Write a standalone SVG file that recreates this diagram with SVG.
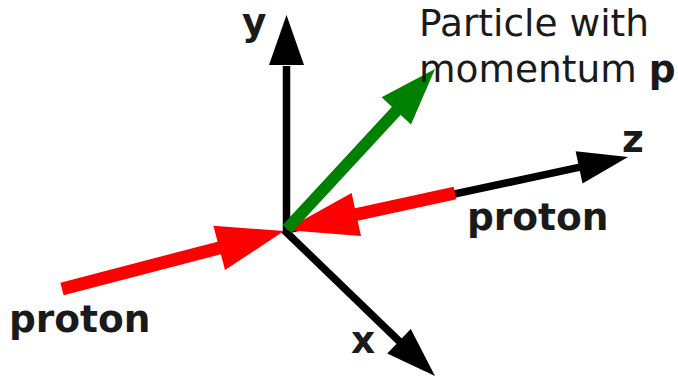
<svg xmlns="http://www.w3.org/2000/svg" width="678" height="377" viewBox="0 0 678 377">
<style>
  .t { font-family: "DejaVu Sans", "Liberation Sans", sans-serif; font-size: 37.5px; fill: #1a1a1a; }
  .b { font-weight: bold; }
  .ax { stroke: #000; stroke-width: 7.5; fill: none; }
  .axh { fill: #000; }
  .pr { stroke: #ff0000; stroke-width: 13; fill: none; }
  .prh { fill: #ff0000; }
  .gr { stroke: #008000; stroke-width: 12; fill: none; }
  .grh { fill: #008000; }
</style>
<rect width="678" height="377" fill="#fff"/>
<g id="connectors">
  <g id="axis-y">
    <line class="ax" x1="286.5" y1="233" x2="286.5" y2="66"/>
    <polygon class="axh" points="286.5,15 304,65 269,65"/>
  </g>
  <g id="axis-z">
    <line class="ax" x1="286" y1="230" x2="580" y2="167.2"/>
    <polygon class="axh" points="628,157 582.5,183.5 575.6,151.3"/>
  </g>
  <g id="axis-x">
    <line class="ax" x1="284" y1="230" x2="400" y2="342"/>
    <polygon class="axh" points="435,376 387.2,353.4 410.8,329"/>
  </g>
  <g id="proton-left">
    <line class="pr" x1="62" y1="289" x2="221" y2="247.5"/>
    <polygon class="prh" points="284,231 225,270.1 213.4,225.7"/>
  </g>
  <g id="proton-right">
    <line class="pr" x1="455" y1="193" x2="354" y2="215"/>
    <polygon class="prh" points="285,230 361,236 351.6,193"/>
  </g>
  <g id="particle">
    <line class="gr" x1="287" y1="229" x2="398" y2="109"/>
    <polygon class="grh" points="435,69 411,124.4 381.6,97.2"/>
  </g>
</g>
<g id="label-y"><text class="t b" x="242" y="35">y</text></g>
<g id="label-z"><text class="t b" x="622" y="152">z</text></g>
<g id="label-x"><text class="t b" x="351" y="353">x</text></g>
<g id="label-particle">
  <text class="t" x="419" y="36">Particle with</text>
  <text class="t" x="419" y="82">momentum <tspan class="b">p</tspan></text>
</g>
<g id="label-proton-right"><text class="t b" x="467" y="230">proton</text></g>
<g id="label-proton-left"><text class="t b" x="9" y="332">proton</text></g>
</svg>
